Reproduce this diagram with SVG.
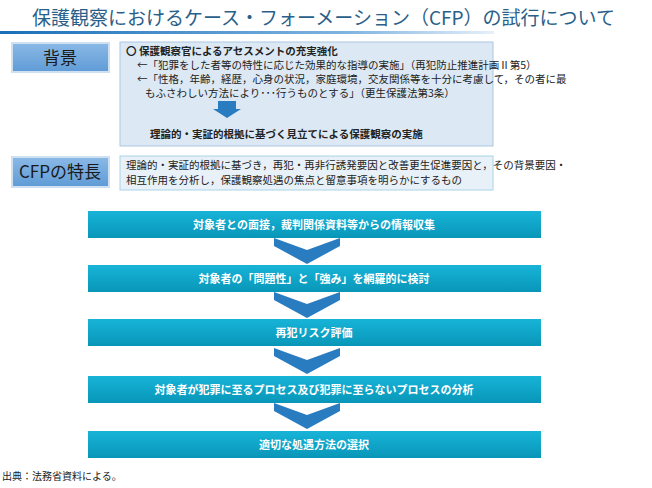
<svg xmlns="http://www.w3.org/2000/svg" width="652" height="488" viewBox="0 0 652 488">
<defs>
<linearGradient id="tl" x1="0" x2="1"><stop offset="0" stop-color="#1a6fb8"/><stop offset="0.7" stop-color="#7fb3e0"/><stop offset="1" stop-color="#e6f0fa"/></linearGradient>
<linearGradient id="lab" x1="0" y1="0" x2="0" y2="1"><stop offset="0" stop-color="#8ab9e6"/><stop offset="1" stop-color="#5f9bd6"/></linearGradient>
<linearGradient id="bar" x1="0" y1="0" x2="0" y2="1"><stop offset="0" stop-color="#17b4d8"/><stop offset="1" stop-color="#0896b8"/></linearGradient>
</defs>
<style>
text{font-family:"Noto Sans CJK JP","Noto Sans",sans-serif}
.t{font-size:10.5px;fill:#222}
.b{font-weight:bold}
.lab{fill:url(#lab);stroke:#cfe0f0;stroke-width:2}
.lt{font-size:17px;fill:#1a1a1a;text-anchor:middle}
.bar{fill:url(#bar)}
.bt{font-size:11px;fill:#fff;font-weight:bold;text-anchor:middle}
.chev{fill:#2a7cc0}
</style>
<rect width="652" height="488" fill="#fff"/>
<text x="32" y="25" font-size="19" fill="#2a5f8a">保護観察におけるケース・フォーメーション（CFP）の試行について</text>
<rect x="0" y="31" width="494" height="3" fill="url(#tl)"/>
<g id="n-bg-label"><rect class="lab" x="12" y="43" width="97" height="29"/><text class="lt" x="60" y="64">背景</text></g>
<g id="n-bg"><rect x="120" y="42" width="373" height="104" fill="#dce9f4" stroke="#a9c7e0"/>
<text class="t b" x="126" y="55">〇  保護観察官によるアセスメントの充実強化</text>
<text class="t" x="137" y="69">←「犯罪をした者等の特性に応じた効果的な指導の実施」（再犯防止推進計画Ⅱ第5）</text>
<text class="t" x="137" y="83">←「性格，年齢，経歴，心身の状況，家庭環境，交友関係等を十分に考慮して，その者に最</text>
<text class="t" x="145" y="97">もふさわしい方法により･･･行うものとする」（更生保護法第3条）</text>
<polygon class="chev" points="218,101 236,101 236,109 241,109 227,118 213,109 218,109"/>
<text class="t b" x="150" y="138">理論的・実証的根拠に基づく見立てによる保護観察の実施</text></g>
<g id="n-cfp-label"><rect class="lab" x="12" y="157" width="97" height="30"/><text class="lt" x="60" y="178">CFPの特長</text></g>
<g id="n-cfp"><rect x="120" y="156" width="373" height="34" fill="#e8f1f8" stroke="#a9d4e6"/>
<text class="t" x="126" y="169">理論的・実証的根拠に基づき，再犯・再非行誘発要因と改善更生促進要因と，その背景要因・</text>
<text class="t" x="126" y="184">相互作用を分析し，保護観察処遇の焦点と留意事項を明らかにするもの</text></g>
<g id="connectors">
<polygon class="chev" points="274,238 307,250 340,238 340,246 307,264 274,246"/>
<polygon class="chev" points="274,292 307,304 340,292 340,300 307,318 274,300"/>
<polygon class="chev" points="274,348 307,360 340,348 340,356 307,374 274,356"/>
<polygon class="chev" points="274,403 307,415 340,403 340,411 307,429 274,411"/>
</g>
<g id="s1"><rect class="bar" x="88" y="211" width="453" height="27"/><text class="bt" x="314" y="229">対象者との面接，裁判関係資料等からの情報収集</text></g>
<g id="s2"><rect class="bar" x="88" y="265" width="453" height="27"/><text class="bt" x="314" y="283">対象者の「問題性」と「強み」を網羅的に検討</text></g>
<g id="s3"><rect class="bar" x="88" y="319" width="453" height="27"/><text class="bt" x="314" y="337">再犯リスク評価</text></g>
<g id="s4"><rect class="bar" x="88" y="376" width="453" height="27"/><text class="bt" x="314" y="394">対象者が犯罪に至るプロセス及び犯罪に至らないプロセスの分析</text></g>
<g id="s5"><rect class="bar" x="88" y="431" width="453" height="27"/><text class="bt" x="314" y="449">適切な処遇方法の選択</text></g>
<text x="2" y="480" font-size="10" fill="#222">出典：法務省資料による。</text>
</svg>
